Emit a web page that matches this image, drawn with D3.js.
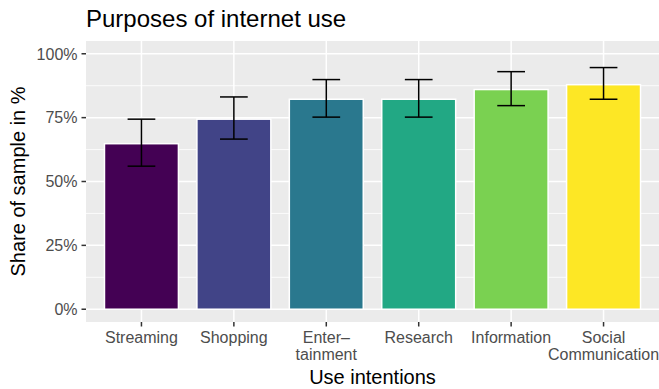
<!DOCTYPE html>
<html><head><meta charset="utf-8">
<script src="https://cdn.jsdelivr.net/npm/d3@7"></script>
<style>body{margin:0;background:#fff}svg{display:block;font-family:"Liberation Sans",Arial,sans-serif}</style>
</head><body><svg id="c" width="659" height="389"></svg>
<script>
const categories = ["Streaming","Shopping","Entertainment","Research","Information","Social Communication"];
const catLabels = [["Streaming"],["Shopping"],["Enter–","tainment"],["Research"],["Information"],["Social","Communication"]];
const values = [0.648, 0.744, 0.822, 0.822, 0.860, 0.879];
const errLow = [0.560, 0.666, 0.752, 0.752, 0.797, 0.822];
const errHigh = [0.744, 0.831, 0.899, 0.899, 0.930, 0.946];
const colors = ["#440154","#414487","#2A788E","#22A884","#7AD151","#FDE725"];
const yTicks = [0, 0.25, 0.5, 0.75, 1];
const yMinor = [0.125, 0.375, 0.625, 0.875];

const svg = d3.select("#c");
const L = 86, R = 659, T = 41, B = 322;
const y = d3.scaleLinear().domain([-0.05, 1.05]).range([B, T]);
const xs = d3.scaleLinear().domain([0.4, 6.6]).range([L, R]);
const x = i => xs(i + 1);
const step = xs(1) - xs(0);

svg.append("rect").attr("x", L).attr("y", T).attr("width", R - L).attr("height", B - T).attr("fill", "#EBEBEB");
const g = svg.append("g");
yMinor.forEach(v => g.append("line").attr("x1", L).attr("x2", R).attr("y1", y(v)).attr("y2", y(v)).attr("stroke", "#fff").attr("stroke-width", 0.8));
yTicks.forEach(v => g.append("line").attr("x1", L).attr("x2", R).attr("y1", y(v)).attr("y2", y(v)).attr("stroke", "#fff").attr("stroke-width", 1.5));
categories.forEach((c, i) => g.append("line").attr("x1", x(i)).attr("x2", x(i)).attr("y1", T).attr("y2", B).attr("stroke", "#fff").attr("stroke-width", 1.5));

const bw = 0.8 * step;
svg.selectAll("rect.bar").data(values).join("rect").attr("class", "bar")
  .attr("x", (d, i) => x(i) - bw / 2).attr("width", bw)
  .attr("y", d => y(d)).attr("height", d => y(0) - y(d))
  .attr("fill", (d, i) => colors[i]).attr("stroke", "#fff").attr("stroke-width", 1.5);

const cw = 0.3 * step;
categories.forEach((c, i) => {
  const eg = svg.append("g").attr("stroke", "#000").attr("stroke-width", 1.5);
  eg.append("line").attr("x1", x(i)).attr("x2", x(i)).attr("y1", y(errLow[i])).attr("y2", y(errHigh[i]));
  eg.append("line").attr("x1", x(i) - cw / 2).attr("x2", x(i) + cw / 2).attr("y1", y(errLow[i])).attr("y2", y(errLow[i]));
  eg.append("line").attr("x1", x(i) - cw / 2).attr("x2", x(i) + cw / 2).attr("y1", y(errHigh[i])).attr("y2", y(errHigh[i]));
});

// y axis
const ya = svg.append("g");
yTicks.forEach(v => {
  ya.append("line").attr("x1", L - 4.5).attr("x2", L).attr("y1", y(v)).attr("y2", y(v)).attr("stroke", "#333").attr("stroke-width", 1.5);
  ya.append("text").attr("x", L - 8.5).attr("y", y(v)).attr("dy", "0.36em").attr("text-anchor", "end")
    .attr("font-size", 16).attr("fill", "#4D4D4D").text(d3.format(".0%")(v));
});
// x axis
const xa = svg.append("g");
catLabels.forEach((lab, i) => {
  xa.append("line").attr("x1", x(i)).attr("x2", x(i)).attr("y1", B).attr("y2", B + 4.5).attr("stroke", "#333").attr("stroke-width", 1.5);
  lab.forEach((t, k) => xa.append("text").attr("x", x(i)).attr("y", 343 + k * 16.5).attr("text-anchor", "middle")
    .attr("font-size", 16).attr("fill", "#4D4D4D").text(t));
});

svg.append("text").attr("x", (L + R) / 2).attr("y", 384).attr("text-anchor", "middle").attr("font-size", 20).attr("fill", "#000").text("Use intentions");
svg.append("text").attr("transform", `translate(25,${(T + B) / 2}) rotate(-90)`).attr("text-anchor", "middle").attr("font-size", 20).attr("fill", "#000").text("Share of sample in %");
svg.append("text").attr("x", L).attr("y", 27).attr("font-size", 24).attr("fill", "#000").text("Purposes of internet use");
</script></body></html>
